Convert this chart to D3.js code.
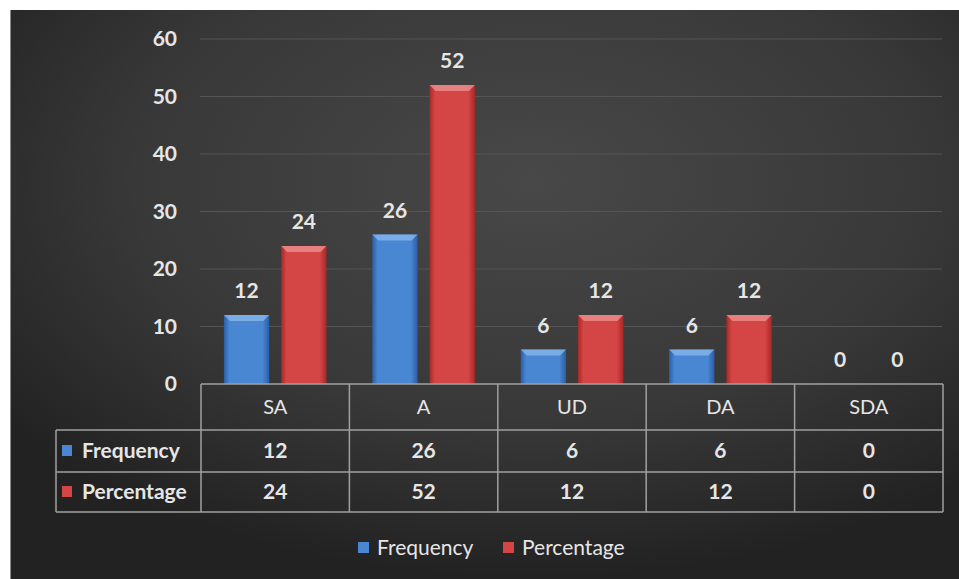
<!DOCTYPE html>
<head>
    <meta charset="utf-8">
    <title>Frequency and percentage</title>
    <script src="https://d3js.org/d3.v7.min.js"></script>
    <style>
    body { margin: 0; background: #ffffff; }
    text { font-family: Lato, "Open Sans", sans-serif; fill: #e6e6e6; }
    </style>
</head>
<body>
<script>
var categories = ["SA", "A", "UD", "DA", "SDA"];
var seriesNames = ["Frequency", "Percentage"];
var frequency = [12, 26, 6, 6, 0];
var percentage = [24, 52, 12, 12, 0];
var yTicks = [0, 10, 20, 30, 40, 50, 60];

var width = 959, height = 579;
var colors = { Frequency: ["#2a5ea6", "#4a87d2", "#86b6ea"], Percentage: ["#a82828", "#d44646", "#ee8e8e"] };

var svg = d3.select("body").append("svg")
    .attr("width", width)
    .attr("height", height);

var defs = svg.append("defs");
var bg = defs.append("radialGradient").attr("id", "bg")
    .attr("cx", "0.55").attr("cy", "0.3").attr("r", "0.7");
bg.append("stop").attr("offset", "0").attr("stop-color", "#484848");
bg.append("stop").attr("offset", "0.6").attr("stop-color", "#383838");
bg.append("stop").attr("offset", "1").attr("stop-color", "#222222");

seriesNames.forEach(function(s) {
    var g = defs.append("linearGradient").attr("id", "g" + s)
        .attr("x1", 0).attr("x2", 1).attr("y1", 0).attr("y2", 0);
    g.append("stop").attr("offset", 0).attr("stop-color", colors[s][0]);
    g.append("stop").attr("offset", 0.12).attr("stop-color", colors[s][1]);
    g.append("stop").attr("offset", 0.85).attr("stop-color", colors[s][1]);
    g.append("stop").attr("offset", 1).attr("stop-color", colors[s][0]);
});

svg.append("rect")
    .attr("x", 10).attr("y", 10)
    .attr("width", width - 10).attr("height", height - 10)
    .attr("fill", "url(#bg)");
svg.append("line")
    .attr("x1", 10.5).attr("x2", 10.5).attr("y1", 10).attr("y2", height)
    .attr("stroke", "#8a8a8a");

var x = d3.scaleBand().domain(categories).range([201, 943]);
var xs = d3.scaleBand().domain(seriesNames).range([0, x.bandwidth()])
    .paddingInner(0.21).paddingOuter(0.4);
var y = d3.scaleLinear().domain([0, 60]).range([384, 39]);

// gridlines
svg.append("g")
    .selectAll("line")
    .data(yTicks.filter(function(d) { return d > 0; }))
    .join("line")
    .attr("x1", 200).attr("x2", 942)
    .attr("y1", function(d) { return y(d); })
    .attr("y2", function(d) { return y(d); })
    .attr("stroke", "#555555")
    .attr("stroke-width", 1.2);

// y axis labels
var yAxis = svg.append("g")
    .attr("transform", "translate(177,0)")
    .call(d3.axisLeft(y).tickValues(yTicks).tickSize(0).tickPadding(0));
yAxis.select(".domain").remove();
yAxis.selectAll("text")
    .attr("font-size", 21)
    .attr("font-weight", "bold")
    .attr("fill", "#e6e6e6")
    .style("font-family", "Lato, 'Open Sans', sans-serif");

var rows = categories.map(function(c, i) {
    return { cat: c, Frequency: frequency[i], Percentage: percentage[i] };
});

var groups = svg.append("g").selectAll("g")
    .data(rows)
    .join("g")
    .attr("transform", function(d) { return "translate(" + x(d.cat) + ",0)"; });

var bars = groups.selectAll("g.bar")
    .data(function(d) { return seriesNames.map(function(s) { return { s: s, v: d[s] }; }); })
    .join("g").attr("class", "bar");

bars.filter(function(d) { return d.v > 0; })
    .append("rect")
    .attr("x", function(d) { return xs(d.s); })
    .attr("y", function(d) { return y(d.v); })
    .attr("width", xs.bandwidth())
    .attr("height", function(d) { return y(0) - y(d.v); })
    .attr("fill", function(d) { return "url(#g" + d.s + ")"; });

// bevel on top of each bar
bars.filter(function(d) { return d.v > 0; })
    .append("path")
    .attr("d", function(d) {
        var x0 = xs(d.s), w = xs.bandwidth(), t = y(d.v), b = 6;
        return "M" + x0 + "," + t + "L" + (x0 + w) + "," + t +
            "L" + (x0 + w - b) + "," + (t + b) + "L" + (x0 + b) + "," + (t + b) + "Z";
    })
    .attr("fill", function(d) { return colors[d.s][2]; })
    .attr("opacity", 0.8);

bars.append("text")
    .attr("x", function(d) { return xs(d.s) + xs.bandwidth() / 2; })
    .attr("y", function(d) { return y(d.v) - 17; })
    .attr("text-anchor", "middle")
    .attr("font-size", 21)
    .attr("font-weight", "bold")
    .text(function(d) { return d.v; });

// data table
var rowY = [384, 430, 472, 512];
var table = svg.append("g").attr("stroke", "#a0a0a0").attr("stroke-width", 1.5).attr("fill", "none");
table.append("line").attr("x1", 201).attr("x2", 943).attr("y1", rowY[0]).attr("y2", rowY[0]);
rowY.slice(1).forEach(function(ry) {
    table.append("line").attr("x1", 56).attr("x2", 943).attr("y1", ry).attr("y2", ry);
});
table.append("line").attr("x1", 56).attr("x2", 56).attr("y1", rowY[1]).attr("y2", rowY[3]);
categories.forEach(function(c) {
    table.append("line").attr("x1", x(c)).attr("x2", x(c)).attr("y1", rowY[0]).attr("y2", rowY[3]);
});
table.append("line").attr("x1", 943).attr("x2", 943).attr("y1", rowY[0]).attr("y2", rowY[3]);

svg.append("g").selectAll("text")
    .data(categories)
    .join("text")
    .attr("x", function(d) { return x(d) + x.bandwidth() / 2; })
    .attr("y", (rowY[0] + rowY[1]) / 2 + 7)
    .attr("text-anchor", "middle")
    .attr("font-size", 20)
    .text(function(d) { return d; });

var seriesRows = [frequency, percentage];
seriesNames.forEach(function(s, r) {
    var cy = (rowY[r + 1] + rowY[r + 2]) / 2;
    svg.append("rect")
        .attr("x", 62).attr("y", cy - 6).attr("width", 10).attr("height", 11)
        .attr("fill", colors[s][1]);
    svg.append("text")
        .attr("x", 82).attr("y", cy + 7)
        .attr("font-size", 21)
        .attr("font-weight", "bold")
        .text(s);
    svg.append("g").selectAll("text")
        .data(seriesRows[r])
        .join("text")
        .attr("x", function(d, i) { return x(categories[i]) + x.bandwidth() / 2; })
        .attr("y", cy + 7)
        .attr("text-anchor", "middle")
        .attr("font-size", 21)
        .attr("font-weight", "bold")
        .text(function(d) { return d; });
});

// legend
var legend = svg.append("g").attr("transform", "translate(358,548)");
var legendX = [0, 145];
seriesNames.forEach(function(s, i) {
    legend.append("rect")
        .attr("x", legendX[i]).attr("y", -6).attr("width", 11).attr("height", 11)
        .attr("fill", colors[s][1]);
    legend.append("text")
        .attr("x", legendX[i] + 19).attr("y", 7)
        .attr("font-size", 21)
        .text(s);
});
</script>
</body>
